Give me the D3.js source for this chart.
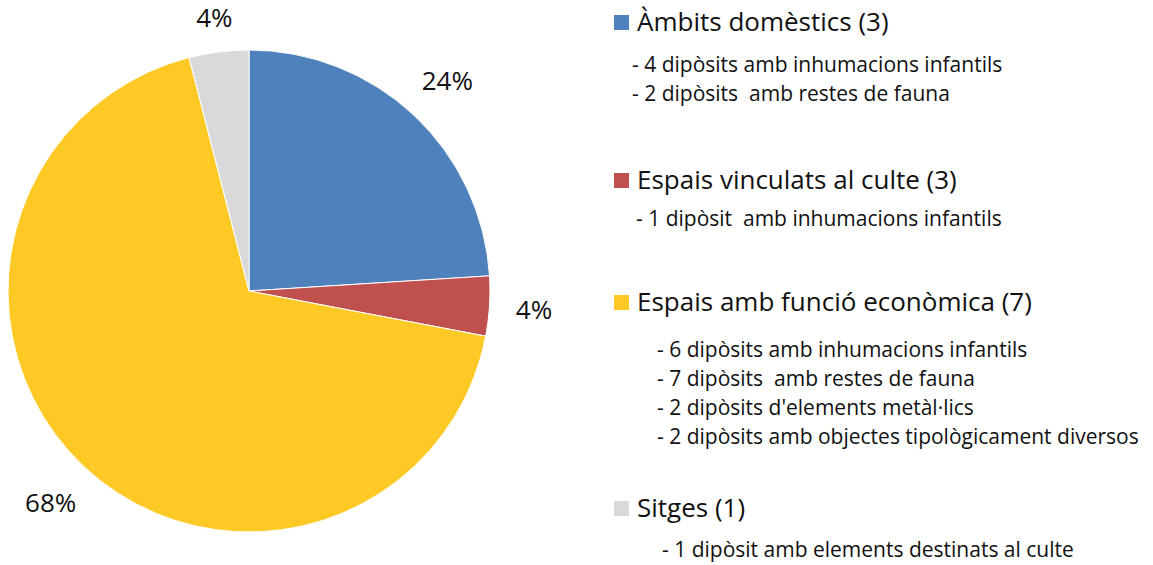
<!DOCTYPE html>
<meta charset="utf-8">
<script src="https://d3js.org/d3.v7.min.js"></script>
<style>
    body { margin: 0; background: white; }
    text { font-family: "Open Sans", "Noto Sans", sans-serif; fill: #111; }
</style>
<div id="my_dataviz"></div>
<script>
    // categories and their values (number of deposits)
    var categories = ["Àmbits domèstics (3)", "Espais vinculats al culte (3)", "Espais amb funció econòmica (7)", "Sitges (1)"];
    var values = [6, 1, 17, 1];
    var colors = ["#4F81BD", "#C0504D", "#FFC925", "#D9D9D9"];
    var details = [
        ["- 4 dipòsits amb inhumacions infantils", "- 2 dipòsits  amb restes de fauna"],
        ["- 1 dipòsit  amb inhumacions infantils"],
        ["- 6 dipòsits amb inhumacions infantils", "- 7 dipòsits  amb restes de fauna", "- 2 dipòsits d'elements metàl·lics", "- 2 dipòsits amb objectes tipològicament diversos"],
        ["- 1 dipòsit amb elements destinats al culte"]
    ];

    var width = 1153, height = 565;
    var cx = 249, cy = 291, radius = 241;

    var svg = d3.select("#my_dataviz")
        .append("svg")
        .attr("width", width)
        .attr("height", height);

    var pie = d3.pie().sort(null).value(function(d) { return d; });
    var arcs = pie(values);
    var total = d3.sum(values);

    var arc = d3.arc().innerRadius(0).outerRadius(radius);

    var g = svg.append("g")
        .attr("transform", "translate(" + cx + "," + cy + ")");

    g.selectAll("path")
        .data(arcs)
        .enter()
        .append("path")
        .attr("d", arc)
        .style("fill", function(d, i) { return colors[i]; })
        .style("stroke", "white")
        .style("stroke-width", 1);

    // percentage labels just outside the slices
    var gap = 26;
    g.selectAll(".pct")
        .data(arcs)
        .enter()
        .append("text")
        .attr("class", "pct")
        .style("font-size", "26px")
        .attr("text-anchor", "middle")
        .attr("dominant-baseline", "central")
        .text(function(d) { return Math.round(d.value / total * 100) + "%"; })
        .each(function(d) {
            var a = (d.startAngle + d.endAngle) / 2;
            var bb = this.getBBox();
            var sx = Math.sin(a), sy = -Math.cos(a);
            var ext = Math.abs(sx) * bb.width / 2 + Math.abs(sy) * bb.height / 2 * 0.4;
            var dist = radius + gap + ext;
            d3.select(this).attr("x", sx * dist).attr("y", sy * dist);
        });

    // legend
    var titleY = [31, 189, 311, 517];
    var firstDetailY = [72, 226, 357, 557];
    var detailStep = 29;
    var detailX = [632, 636, 657, 662];

    var legend = svg.append("g");
    categories.forEach(function(c, i) {
        legend.append("rect")
            .attr("x", 614)
            .attr("y", titleY[i] - 16)
            .attr("width", 15)
            .attr("height", 15)
            .style("fill", colors[i]);
        legend.append("text")
            .attr("x", 637)
            .attr("y", titleY[i])
            .style("font-size", "26px")
            .text(c);
        details[i].forEach(function(t, j) {
            legend.append("text")
                .attr("x", detailX[i])
                .attr("y", firstDetailY[i] + j * detailStep)
                .style("font-size", "21px")
                .style("white-space", "pre")
                .text(t);
        });
    });
</script>
